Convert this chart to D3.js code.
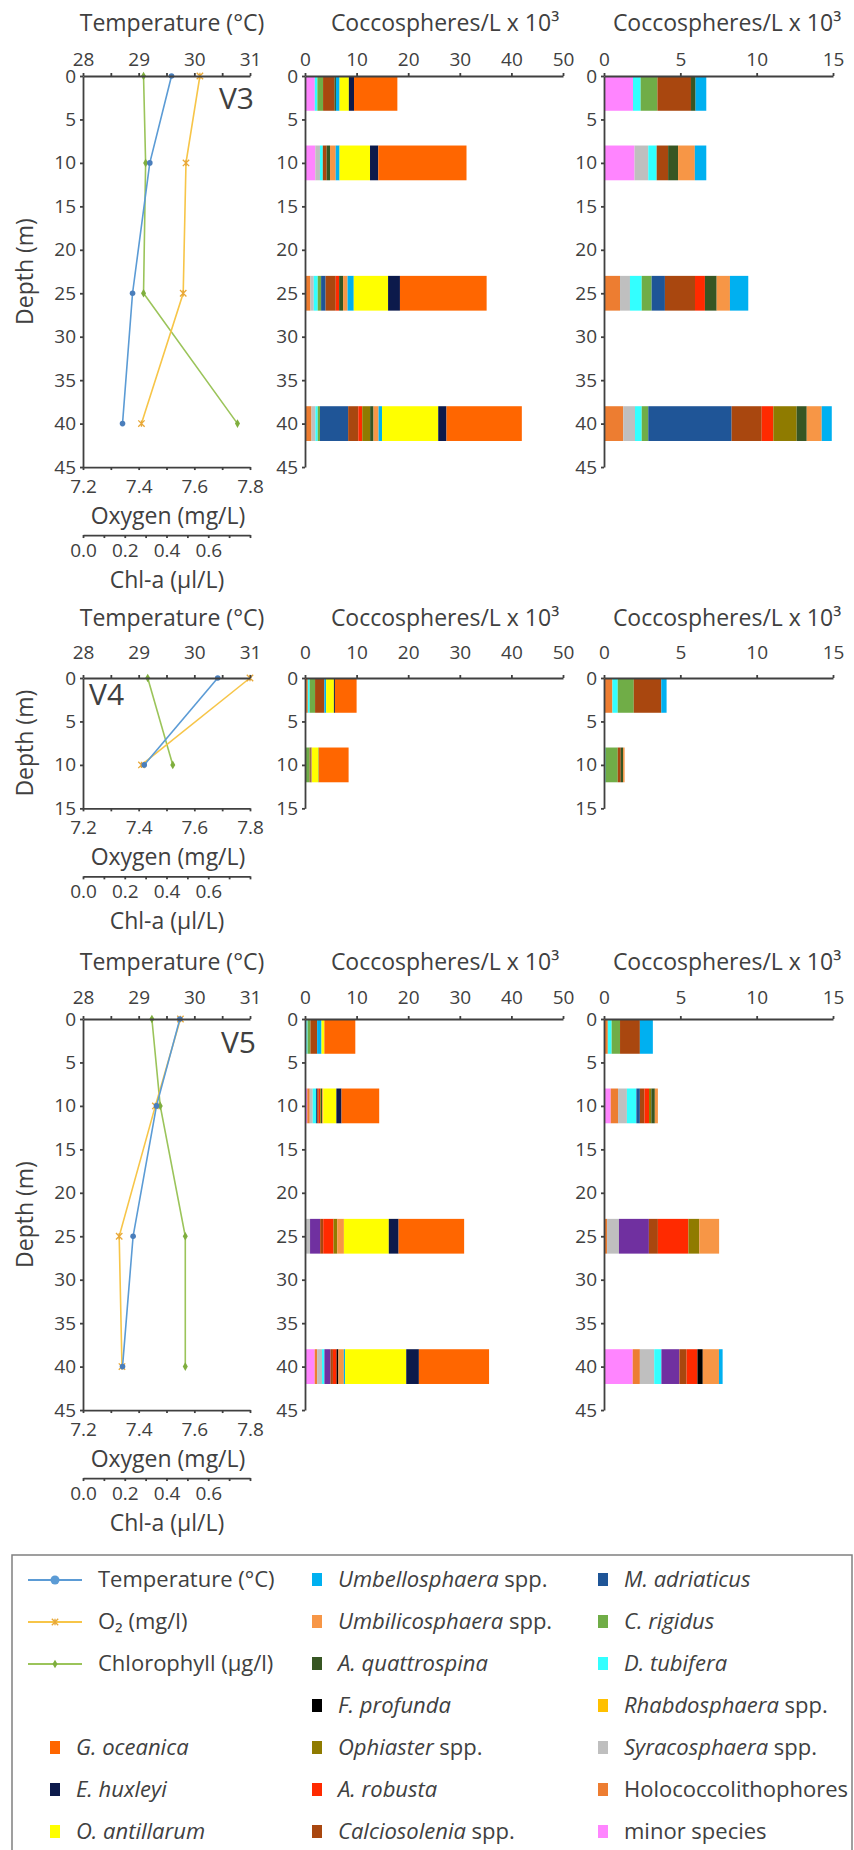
<!DOCTYPE html>
<html>
<head>
<meta charset="utf-8">
<script src="https://cdn.jsdelivr.net/npm/d3@7"></script>
<style>
  body { margin: 0; background: #fff; }
  svg { display: block; font-family: "Open Sans", sans-serif; }
  .axis path, .axis line { stroke: #404040; stroke-width: 1.8; }
  .axis text { fill: #404040; font-size: 19px; font-family: "Open Sans", sans-serif; }
  .title { fill: #404040; font-size: 23px; text-anchor: middle; }
  .station { fill: #404040; font-size: 30px; }
  .legend text { fill: #404040; font-size: 22px; }
</style>
</head>
<body>
<svg id="chart" width="854" height="1850"></svg>
<script>
/* ── data ─────────────────────────────────────────────────────────────── */

const depthsV3 = [0, 10, 25, 40];
const tempV3 = [29.59, 29.2, 28.89, 28.71];
const oxygenV3 = [7.62, 7.57, 7.56, 7.41];
const chlV3 = [0.29, 0.3, 0.29, 0.74];

const depthsV4 = [0, 10];
const tempV4 = [30.42, 29.1];
const oxygenV4 = [7.8, 7.41];
const chlV4 = [0.31, 0.43];

const depthsV5 = [0, 10, 25, 40];
const tempV5 = [29.74, 29.32, 28.9, 28.71];
const oxygenV5 = [7.55, 7.46, 7.33, 7.34];
const chlV5 = [0.33, 0.37, 0.49, 0.49];

// stacking order, left to right
const SPECIES = ["minor", "holo", "syra", "rhab", "dtub", "crig", "madr", "purp",
  "calc", "arob", "ophi", "fpro", "aqua", "umbi", "umbe", "oant", "ehux", "goce"];
// expanded panel leaves out the three dominant taxa
const MINOR_KEYS = SPECIES.slice(0, 15);

const SPECIES_COLORS = {
  minor: "#ff85ff", holo: "#ed7d31", syra: "#bfbfbf", rhab: "#ffc000",
  dtub: "#33ffff", crig: "#70ad47", madr: "#1f5597", purp: "#7030a0",
  calc: "#a9470f", arob: "#ff2a00", ophi: "#8f7b00", fpro: "#000000",
  aqua: "#375623", umbi: "#f79646", umbe: "#00b0f0", oant: "#ffff00",
  ehux: "#0c1a4b", goce: "#ff6600",
};

// coccospheres/L x 10^3
const countsV3 = [
  { depth: 0, minor: 1.9, dtub: 0.5, crig: 1.1, calc: 2.2, aqua: 0.3, umbe: 0.7, oant: 1.8, ehux: 1.0, goce: 8.4 },
  { depth: 10, minor: 2.0, syra: 0.9, dtub: 0.55, calc: 0.75, aqua: 0.65, umbi: 1.1, umbe: 0.75, oant: 5.9, ehux: 1.6, goce: 17.1 },
  { depth: 25, holo: 1.05, syra: 0.65, dtub: 0.77, crig: 0.65, madr: 0.87, calc: 1.97, arob: 0.65, aqua: 0.77, umbi: 0.87, umbe: 1.2, oant: 6.65, ehux: 2.3, goce: 16.8 },
  { depth: 40, holo: 1.26, syra: 0.77, dtub: 0.44, crig: 0.43, madr: 5.46, calc: 1.97, arob: 0.76, ophi: 1.53, aqua: 0.66, umbi: 0.98, umbe: 0.66, oant: 10.9, ehux: 1.6, goce: 14.6 },
];
const countsV4 = [
  { depth: 0, holo: 0.55, dtub: 0.35, crig: 1.05, calc: 1.8, umbe: 0.35, oant: 1.5, ehux: 0.2, goce: 4.2 },
  { depth: 10, dtub: 0.1, crig: 0.8, calc: 0.2, aqua: 0.15, umbi: 0.1, oant: 1.3, ehux: 0.05, goce: 5.75 },
];
const countsV5 = [
  { depth: 0, holo: 0.25, dtub: 0.25, crig: 0.55, calc: 1.3, umbe: 0.85, oant: 0.55, goce: 6.0 },
  { depth: 10, minor: 0.44, holo: 0.48, syra: 0.58, dtub: 0.62, madr: 0.23, calc: 0.3, arob: 0.3, ophi: 0.15, aqua: 0.23, umbi: 0.2, oant: 2.55, ehux: 1.0, goce: 7.3 },
  { depth: 25, holo: 0.2, syra: 0.78, purp: 1.96, calc: 0.59, arob: 2.0, ophi: 0.71, umbi: 1.3, oant: 8.7, ehux: 1.9, goce: 12.7 },
  { depth: 40, minor: 1.88, holo: 0.47, syra: 0.94, dtub: 0.47, purp: 1.18, calc: 0.47, arob: 0.71, fpro: 0.35, umbi: 1.06, umbe: 0.24, oant: 11.85, ehux: 2.45, goce: 13.6 },
];

// legend columns: [key, italic part, plain part]
const LEGEND_COL1 = [["goce", "G. oceanica", ""], ["ehux", "E. huxleyi", ""], ["oant", "O. antillarum", ""]];
const LEGEND_COL2 = [
  ["umbe", "Umbellosphaera", " spp."], ["umbi", "Umbilicosphaera", " spp."],
  ["aqua", "A. quattrospina", ""], ["fpro", "F. profunda", ""], ["ophi", "Ophiaster", " spp."],
  ["arob", "A. robusta", ""], ["calc", "Calciosolenia", " spp."],
];
const LEGEND_COL3 = [
  ["madr", "M. adriaticus", ""], ["crig", "C. rigidus", ""], ["dtub", "D. tubifera", ""],
  ["rhab", "Rhabdosphaera", " spp."], ["syra", "Syracosphaera", " spp."],
  ["holo", "", "Holococcolithophores"], ["minor", "", "minor species"],
];

const LINE_COLORS = { temp: "#5b9bd5", oxygen: "#f7c548", chl: "#9bc45a" };

/* ── layout ───────────────────────────────────────────────────────────── */

const svg = d3.select("#chart");
const PROF_X = [83, 250];
const MID_X = [305, 563];
const RIGHT_X = [604, 833];
const PX_PER_M = 8.69;

// titleDy / tickPad: distance of the top titles and tick labels above the depth-0 line
const stations = [
  { name: "V3", top: 76, maxDepth: 45, depths: depthsV3, temp: tempV3, oxygen: oxygenV3, chl: chlV3, counts: countsV3, lx: 254, ly: 33, anchor: "end", titleDy: 45, tickPad: 7 },
  { name: "V4", top: 678, maxDepth: 15, depths: depthsV4, temp: tempV4, oxygen: oxygenV4, chl: chlV4, counts: countsV4, lx: 89, ly: 27, anchor: "start", titleDy: 52, tickPad: 16 },
  { name: "V5", top: 1019, maxDepth: 45, depths: depthsV5, temp: tempV5, oxygen: oxygenV5, chl: chlV5, counts: countsV5, lx: 256, ly: 34, anchor: "end", titleDy: 49, tickPad: 12 },
];

function styleAxis(g) {
  g.attr("class", "axis");
  g.select(".domain").attr("stroke-width", 1.8);
  // minor ticks carry no label: drop their empty text nodes
  g.selectAll(".tick text").filter(function () { return this.textContent === ""; }).remove();
}

function marker(g, type, x, y) {
  if (type === "temp") {
    g.append("circle").attr("cx", x).attr("cy", y).attr("r", 2.8).attr("fill", "#4a7ebb");
  } else if (type === "oxygen") {
    const s = 3.2;
    g.append("path")
      .attr("d", `M${x - s},${y - s}L${x + s},${y + s}M${x - s},${y + s}L${x + s},${y - s}M${x},${y - s}L${x},${y + s}`)
      .attr("stroke", "#e8a838").attr("stroke-width", 1.3);
  } else {
    g.append("path")
      .attr("transform", `translate(${x},${y})`)
      .attr("d", d3.symbol().type(d3.symbolDiamond).size(22)())
      .attr("fill", "#7fae3e");
  }
}

function drawStation(st) {
  const y = d3.scaleLinear().domain([0, st.maxDepth]).range([st.top, st.top + st.maxDepth * PX_PER_M]);
  const bottom = y(st.maxDepth);
  const depthTicks = d3.range(0, st.maxDepth + 1, 5);
  const g = svg.append("g");

  /* profile panel */
  const xT = d3.scaleLinear().domain([28, 31]).range(PROF_X);
  const xO = d3.scaleLinear().domain([7.2, 7.8]).range(PROF_X);
  const xC = d3.scaleLinear().domain([0, 0.8]).range(PROF_X);

  const series = [
    { key: "chl", x: xC, vals: st.chl },
    { key: "oxygen", x: xO, vals: st.oxygen },
    { key: "temp", x: xT, vals: st.temp },
  ];
  series.forEach((s) => {
    const pts = st.depths.map((d, i) => ({ depth: d, v: s.vals[i] }));
    g.append("path")
      .datum(pts)
      .attr("fill", "none")
      .attr("stroke", LINE_COLORS[s.key])
      .attr("stroke-width", 1.6)
      .attr("d", d3.line().x((d) => s.x(d.v)).y((d) => y(d.depth)));
    pts.forEach((p) => marker(g, s.key, s.x(p.v), y(p.depth)));
  });

  // temperature (top)
  g.append("g")
    .attr("transform", `translate(0,${st.top})`)
    .call(d3.axisTop(xT).tickValues(d3.range(28, 31.01, 0.5)).tickSizeInner(3).tickSizeOuter(0).tickPadding(st.tickPad)
      .tickFormat((d) => (d % 1 === 0 ? d : "")))
    .call(styleAxis);
  g.append("text").attr("class", "title").attr("x", 172).attr("y", st.top - st.titleDy).text("Temperature (°C)");

  // oxygen (bottom)
  g.append("g")
    .attr("transform", `translate(0,${bottom})`)
    .call(d3.axisBottom(xO).tickValues(d3.range(7.2, 7.801, 0.1)).tickSizeInner(3).tickSizeOuter(0).tickPadding(9)
      .tickFormat((d, i) => (i % 2 === 0 ? d3.format(".1f")(d) : "")))
    .call(styleAxis);
  g.append("text").attr("class", "title").attr("x", 168).attr("y", bottom + 57).text("Oxygen (mg/L)");

  // chl-a (separate line below)
  g.append("g")
    .attr("transform", `translate(0,${bottom + 68})`)
    .call(d3.axisBottom(xC).tickValues(d3.range(0, 0.801, 0.1)).tickSizeInner(3).tickSizeOuter(0).tickPadding(5)
      .tickFormat((d, i) => (i % 2 === 0 && d < 0.7 ? d3.format(".1f")(d) : "")))
    .call(styleAxis);
  g.append("text").attr("class", "title").attr("x", 167).attr("y", bottom + 121).text("Chl-a (µl/L)");

  // depth
  g.append("g")
    .attr("transform", `translate(${PROF_X[0]},0)`)
    .call(d3.axisLeft(y).tickValues(depthTicks).tickSizeInner(3).tickSizeOuter(0).tickPadding(4))
    .call(styleAxis);
  g.append("text")
    .attr("class", "title")
    .attr("transform", `translate(33,${(st.top + bottom) / 2}) rotate(-90)`)
    .text("Depth (m)");

  g.append("text")
    .attr("class", "station")
    .attr("x", st.lx)
    .attr("y", st.top + st.ly)
    .attr("text-anchor", st.anchor)
    .text(st.name);

  /* bar panels */
  const panels = [
    { range: MID_X, max: 50, step: 10, keys: SPECIES, titleX: 445 },
    { range: RIGHT_X, max: 15, step: 5, keys: MINOR_KEYS, titleX: 727 },
  ];
  panels.forEach((p) => {
    const x = d3.scaleLinear().domain([0, p.max]).range(p.range);
    const stacked = d3.stack().keys(p.keys).value((d, k) => d[k] || 0)(st.counts);
    const bandTop = (d) => y(Math.max(0, d - 2));
    const bandH = y(4) - y(0);

    g.append("g")
      .selectAll("g")
      .data(stacked)
      .join("g")
      .attr("fill", (s) => SPECIES_COLORS[s.key])
      .selectAll("rect")
      .data((s) => s.filter((v) => v[1] > v[0]))
      .join("rect")
      .attr("x", (v) => x(v[0]))
      .attr("width", (v) => x(v[1]) - x(v[0]))
      .attr("y", (v) => bandTop(v.data.depth))
      .attr("height", bandH);

    g.append("g")
      .attr("transform", `translate(0,${st.top})`)
      .call(d3.axisTop(x).tickValues(d3.range(0, p.max + 0.01, p.step)).tickSizeInner(3).tickSizeOuter(0).tickPadding(st.tickPad))
      .call(styleAxis);
    g.append("g")
      .attr("transform", `translate(${p.range[0]},0)`)
      .call(d3.axisLeft(y).tickValues(depthTicks).tickSizeInner(3).tickSizeOuter(0).tickPadding(4))
      .call(styleAxis);
    g.append("text").attr("class", "title").attr("x", p.titleX).attr("y", st.top - st.titleDy).text("Coccospheres/L x 10³");
  });
}

stations.forEach(drawStation);

/* ── legend ───────────────────────────────────────────────────────────── */

const legend = svg.append("g").attr("class", "legend");
legend.append("rect")
  .attr("x", 12).attr("y", 1555).attr("width", 840).attr("height", 330)
  .attr("fill", "none").attr("stroke", "#808080").attr("stroke-width", 1.5);

const rowY = (i) => 1580 + i * 42;

const lineItems = [["temp", "Temperature (°C)"], ["oxygen", "O₂ (mg/l)"], ["chl", "Chlorophyll (µg/l)"]];
lineItems.forEach(([key, label], i) => {
  const yy = rowY(i);
  legend.append("line").attr("x1", 28).attr("x2", 82).attr("y1", yy).attr("y2", yy)
    .attr("stroke", LINE_COLORS[key]).attr("stroke-width", 1.8);
  marker(legend, key, 55, yy);
  if (key === "temp") legend.select("circle:last-of-type").attr("r", 4.5).attr("fill", "#5b9bd5");
  legend.append("text").attr("x", 98).attr("y", yy + 7).text(label);
});

function speciesItem(entry, row, sx, tx) {
  const [key, ital, plain] = entry;
  const yy = rowY(row);
  legend.append("rect").attr("x", sx).attr("y", yy - 7).attr("width", 10).attr("height", 13)
    .attr("fill", SPECIES_COLORS[key]);
  const t = legend.append("text").attr("x", tx).attr("y", yy + 7);
  if (ital) t.append("tspan").attr("font-style", "italic").text(ital);
  if (plain) t.append("tspan").text(plain);
}

LEGEND_COL1.forEach((e, i) => speciesItem(e, i + 4, 50, 76));
LEGEND_COL2.forEach((e, i) => speciesItem(e, i, 312, 338));
LEGEND_COL3.forEach((e, i) => speciesItem(e, i, 598, 624));
</script>
</body>
</html>
